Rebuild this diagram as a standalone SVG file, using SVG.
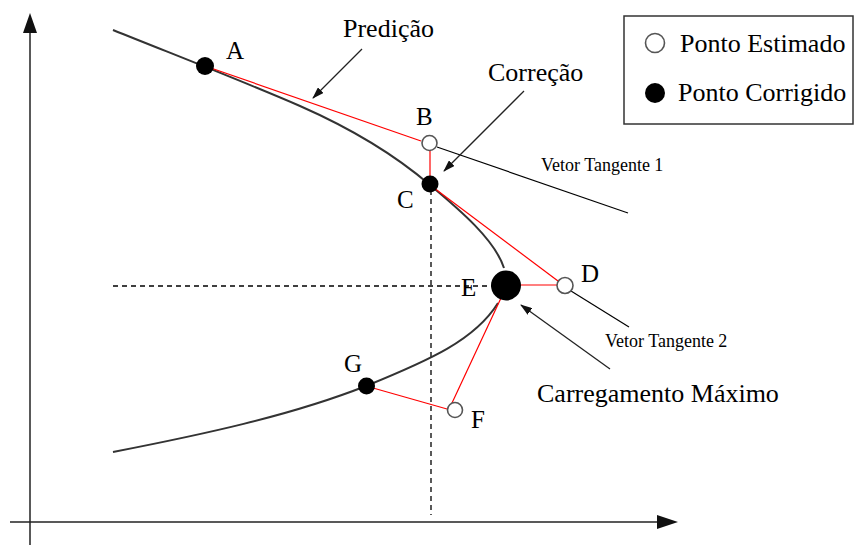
<svg xmlns="http://www.w3.org/2000/svg" width="856" height="545" viewBox="0 0 856 545">
<defs>
<style>
.t{font-family:"Liberation Serif","Times New Roman",serif;fill:#000}
.lbl{font-size:25px}
.big{font-size:26px}
.sm{font-size:18px}
.red{stroke:#f00;stroke-width:1.2;fill:none}
.tan{stroke:#000;stroke-width:1.2;fill:none}
.dash{stroke:#000;stroke-width:1.3;stroke-dasharray:5 4;fill:none}
.open{fill:#fff;stroke:#555;stroke-width:1.6}
.full{fill:#000}
.ptr{stroke:#222;stroke-width:1.3;fill:none;marker-end:url(#ah)}
</style>
<marker id="ah" viewBox="0 0 12 8" refX="11" refY="4" markerWidth="12" markerHeight="8" markerUnits="userSpaceOnUse" orient="auto">
<path d="M0,0 L12,4 L0,8 Z" fill="#111"/>
</marker>
</defs>
<rect width="856" height="545" fill="#fff"/>

<g id="axes">
<line x1="30" y1="30" x2="30" y2="545" stroke="#222" stroke-width="1.5"/>
<polygon points="30,13 23,33 37,33" fill="#111"/>
<line x1="10" y1="522" x2="660" y2="522" stroke="#222" stroke-width="1.5"/>
<polygon points="678,522 657,515 657,529" fill="#111"/>
</g>

<g id="guides">
<line class="dash" x1="431" y1="190" x2="431" y2="515"/>
<line class="dash" x1="113" y1="286" x2="492" y2="286"/>
</g>

<g id="curve">
<path d="M113,30 C175,55 240,80 300,106 C350,128 395,155 430,185 C460,210 495,240 504,268" stroke="#333" stroke-width="2" fill="none"/>
<path d="M498,303 C475,340 430,360 366,386 C290,416 200,435 113,452" stroke="#333" stroke-width="2" fill="none"/>
</g>

<g id="connectors">
<line class="red" x1="205" y1="66" x2="421" y2="141"/>
<line class="red" x1="430" y1="151" x2="430" y2="184"/>
<line class="red" x1="430" y1="185" x2="558" y2="281"/>
<line class="red" x1="506" y1="285" x2="557" y2="285"/>
<line class="red" x1="501" y1="298" x2="452" y2="403"/>
<line class="red" x1="366" y1="386" x2="447" y2="409"/>
<line class="tan" x1="437" y1="147" x2="628" y2="213"/>
<line class="tan" x1="571" y1="291" x2="629" y2="327"/>
<line class="ptr" x1="362" y1="49" x2="313" y2="98"/>
<line class="ptr" x1="524" y1="91" x2="444" y2="171"/>
<line class="ptr" x1="610" y1="369" x2="521" y2="305"/>
</g>

<g id="A"><circle class="full" cx="205" cy="66" r="9"/><text class="t lbl" x="226" y="59">A</text></g>
<g id="B"><circle class="open" cx="429.5" cy="143" r="7.5"/><text class="t lbl" x="416" y="125">B</text></g>
<g id="C"><circle class="full" cx="430" cy="184" r="8.5"/><text class="t lbl" x="397" y="208">C</text></g>
<g id="D"><circle class="open" cx="565" cy="285.5" r="8"/><text class="t lbl" x="581" y="282">D</text></g>
<g id="E"><circle class="full" cx="506" cy="285.5" r="15"/><text class="t lbl" x="461" y="296">E</text></g>
<g id="F"><circle class="open" cx="455" cy="410" r="7.5"/><text class="t lbl" x="471" y="428">F</text></g>
<g id="G"><circle class="full" cx="366.5" cy="386" r="8.5"/><text class="t lbl" x="344" y="372">G</text></g>

<g id="labels">
<text class="t big" x="343" y="37">Predição</text>
<text class="t big" x="488" y="81">Correção</text>
<text class="t sm" x="541" y="171">Vetor Tangente 1</text>
<text class="t sm" x="605" y="347">Vetor Tangente 2</text>
<text class="t big" x="537" y="402">Carregamento Máximo</text>
</g>

<g id="legend">
<rect x="624" y="16" width="229" height="108" fill="#fff" stroke="#333" stroke-width="1.5"/>
<circle class="open" cx="655" cy="43" r="9.5" stroke="#777"/>
<text class="t big" x="680" y="52">Ponto Estimado</text>
<circle class="full" cx="655" cy="93" r="10"/>
<text class="t big" x="678" y="101">Ponto Corrigido</text>
</g>
</svg>
